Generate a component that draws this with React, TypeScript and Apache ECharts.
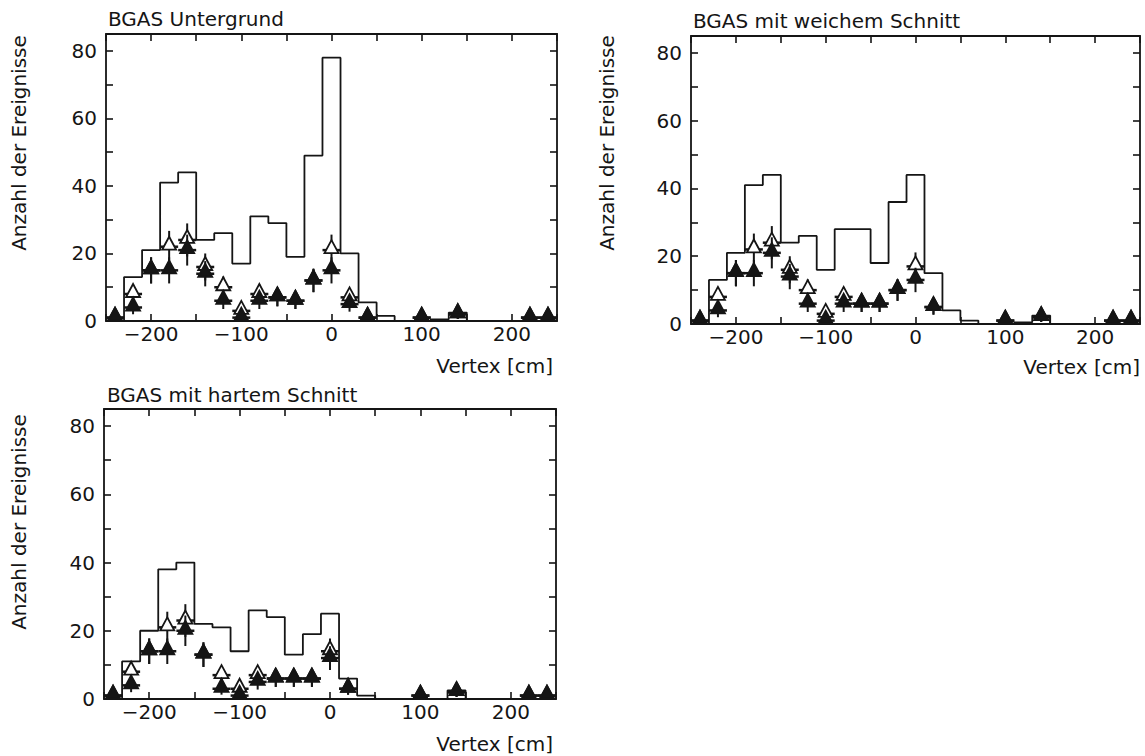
import React, { useEffect, useRef } from "react";
import * as echarts from "echarts";

// Bin centres of the vertex histograms (cm), 20 cm wide bins
const CENTERS = [-240, -220, -200, -180, -160, -140, -120, -100, -80, -60, -40, -20, 0, 20, 40, 60, 80, 100, 120, 140, 160, 180, 200, 220, 240];
const BIN_HALF = 10;

const TITLES = ["BGAS Untergrund", "BGAS mit weichem Schnitt", "BGAS mit hartem Schnitt"];
const X_NAME = "Vertex [cm]";
const Y_NAME = "Anzahl der Ereignisse";

// Histogram (line) values per panel
const hist1 = [0, 13, 21, 41, 44, 24, 26, 17, 31, 29, 19, 49, 78, 20, 5.5, 1.5, 0, 0, 0.5, 2.5, 0, 0, 0, 0, 0];
const hist2 = [0, 13, 21, 41, 44, 24, 26, 16, 28, 28, 18, 36, 44, 15, 4, 1, 0, 0, 0.5, 2.5, 0, 0, 0, 0, 0];
const hist3 = [0, 11, 20, 38, 40, 22, 21, 14, 26, 24, 13, 19, 25, 6, 1, 0, 0, 0, 0, 2.5, 0, 0, 0, 0, 0];

// Open triangles
const open1 = [1, 8, 15, 22, 24, 16, 10, 3, 8, 7, 6, 12, 21, 7, 1, null, null, 1, null, 2, null, null, null, 1, 1];
const open2 = [1, 8, 15, 22, 24, 16, 10, 3, 8, 6, 6, 10, 17, 5, null, null, null, 1, null, 2, null, null, null, 1, 1];
const open3 = [1, 8, 14, 21, 23, 13, 7, 3, 7, 6, 6, 6, 14, 3, null, null, null, 1, null, 2, null, null, null, 1, 1];

// Filled triangles
const filled1 = [1, 4, 15, 15, 21, 14, 6, 1, 6, 7, 6, 12, 15, 5, 1, null, null, 1, null, 2, null, null, null, 1, 1];
const filled2 = [1, 4, 15, 15, 21, 14, 6, 1, 6, 6, 6, 10, 13, 5, null, null, null, 1, null, 2, null, null, null, 1, 1];
const filled3 = [1, 4, 14, 14, 20, 13, 3, 1, 5, 6, 6, 6, 12, 3, null, null, null, 1, null, 2, null, null, null, 1, 1];

const X_MIN = -250;
const X_MAX = 250;
const Y_MIN = 0;
const Y_MAX = 85;

const HISTS = [hist1, hist2, hist3];
const OPENS = [open1, open2, open3];
const FILLEDS = [filled1, filled2, filled3];

const GRIDS = [
  { left: 106, top: 34, width: 451, height: 287 },
  { left: 691, top: 36, width: 449, height: 288 },
  { left: 104, top: 409, width: 452, height: 290 },
];

const INK = "#151515";
const FONT = "DejaVu Sans";

function stepData(vals: number[]) {
  const pts = vals.map((v, i) => [CENTERS[i] - BIN_HALF, v]);
  const last = vals.length - 1;
  pts.push([CENTERS[last] + BIN_HALF, vals[last]]);
  return pts;
}

function pointData(vals: (number | null)[]) {
  const out: number[][] = [];
  vals.forEach((v, i) => {
    if (v !== null && v !== undefined) out.push([CENTERS[i], v]);
  });
  return out;
}

function makeRender(filled: boolean) {
  return (params: any, api: any) => {
    const x = api.value(0);
    const y = api.value(1);
    const p = api.coord([x, y]);
    const err = Math.sqrt(y);
    const top = api.coord([x, y + err])[1];
    const bot = api.coord([x, Math.max(y - err, 0)])[1];
    return {
      type: "group",
      children: [
        {
          type: "line",
          shape: { x1: p[0], y1: top, x2: p[0], y2: bot },
          style: { stroke: INK, lineWidth: 2 },
        },
        {
          type: "line",
          shape: { x1: p[0] - 9, y1: p[1], x2: p[0] + 9, y2: p[1] },
          style: { stroke: INK, lineWidth: 2.5 },
        },
        {
          type: "polygon",
          shape: {
            points: [
              [p[0], p[1] - 10],
              [p[0] - 7, p[1] + 3],
              [p[0] + 7, p[1] + 3],
            ],
          },
          style: { fill: filled ? INK : "#ffffff", stroke: INK, lineWidth: 1.8 },
        },
      ],
    };
  };
}

function fmtX(v: number) {
  if (v % 100 !== 0 || Math.abs(v) >= 250) return "";
  return String(v).replace("-", "\u2212");
}

function fmtY(v: number) {
  return v % 20 === 0 ? String(v) : "";
}

export default function App() {
  const ref = useRef<HTMLDivElement>(null);

  useEffect(() => {
    if (!ref.current) return;
    const chart = echarts.init(ref.current, undefined, { renderer: "svg" });

    const grid: any[] = [];
    const xAxis: any[] = [];
    const yAxis: any[] = [];
    const series: any[] = [];
    const graphic: any[] = [];

    GRIDS.forEach((g, i) => {
      grid.push({ ...g, show: true, borderColor: INK, borderWidth: 1.8, backgroundColor: "transparent", containLabel: false });
      const tickStyle = { show: true, inside: true, length: 7, lineStyle: { color: INK, width: 1.6 } };
      ["bottom", "top"].forEach((pos, k) => {
        xAxis.push({
          type: "value",
          gridIndex: i,
          position: pos,
          min: X_MIN,
          max: X_MAX,
          interval: 50,
          axisLine: { show: false, onZero: false },
          axisTick: tickStyle,
          splitLine: { show: false },
          axisLabel: k === 0
            ? { show: true, formatter: fmtX, fontFamily: FONT, fontSize: 20, color: INK, margin: 3 }
            : { show: false },
        });
      });
      ["left", "right"].forEach((pos, k) => {
        yAxis.push({
          type: "value",
          gridIndex: i,
          position: pos,
          min: Y_MIN,
          max: Y_MAX,
          interval: 10,
          axisLine: { show: false, onZero: false },
          axisTick: tickStyle,
          splitLine: { show: false },
          axisLabel: k === 0
            ? { show: true, formatter: fmtY, fontFamily: FONT, fontSize: 20, color: INK, margin: 9 }
            : { show: false },
        });
      });

      series.push({
        type: "line",
        xAxisIndex: i * 2,
        yAxisIndex: i * 2,
        data: stepData(HISTS[i]),
        step: "end",
        symbol: "none",
        lineStyle: { color: INK, width: 1.8 },
        silent: true,
      });
      series.push({
        type: "custom",
        xAxisIndex: i * 2,
        yAxisIndex: i * 2,
        data: pointData(OPENS[i]),
        renderItem: makeRender(false),
        silent: true,
      });
      series.push({
        type: "custom",
        xAxisIndex: i * 2,
        yAxisIndex: i * 2,
        data: pointData(FILLEDS[i]),
        renderItem: makeRender(true),
        silent: true,
      });
    });

    const titlePos = [
      { x: 108, y: 19 },
      { x: 693, y: 21 },
      { x: 107, y: 395 },
    ];
    const xNamePos = [
      { x: 553, y: 366 },
      { x: 1140, y: 367 },
      { x: 553, y: 744 },
    ];
    const yNamePos = [
      { x: 19, y: 143 },
      { x: 607, y: 143 },
      { x: 19, y: 522 },
    ];

    for (let i = 0; i < 3; i++) {
      graphic.push({
        type: "text",
        x: titlePos[i].x,
        y: titlePos[i].y,
        style: { text: TITLES[i], fill: INK, font: `20px "${FONT}"`, textAlign: "left", textVerticalAlign: "middle" },
      });
      graphic.push({
        type: "text",
        x: xNamePos[i].x,
        y: xNamePos[i].y,
        style: { text: X_NAME, fill: INK, font: `20px "${FONT}"`, textAlign: "right", textVerticalAlign: "middle" },
      });
      graphic.push({
        type: "text",
        x: yNamePos[i].x,
        y: yNamePos[i].y,
        rotation: Math.PI / 2,
        style: { text: Y_NAME, fill: INK, font: `20px "${FONT}"`, textAlign: "center", textVerticalAlign: "middle" },
      });
    }

    chart.setOption({
      animation: false,
      backgroundColor: "#ffffff",
      grid,
      xAxis,
      yAxis,
      series,
      graphic,
    });

    return () => chart.dispose();
  }, []);

  return (
    <div
      ref={ref}
      style={{ position: "fixed", left: 0, top: 0, width: 1145, height: 756, background: "#fff" }}
    />
  );
}
